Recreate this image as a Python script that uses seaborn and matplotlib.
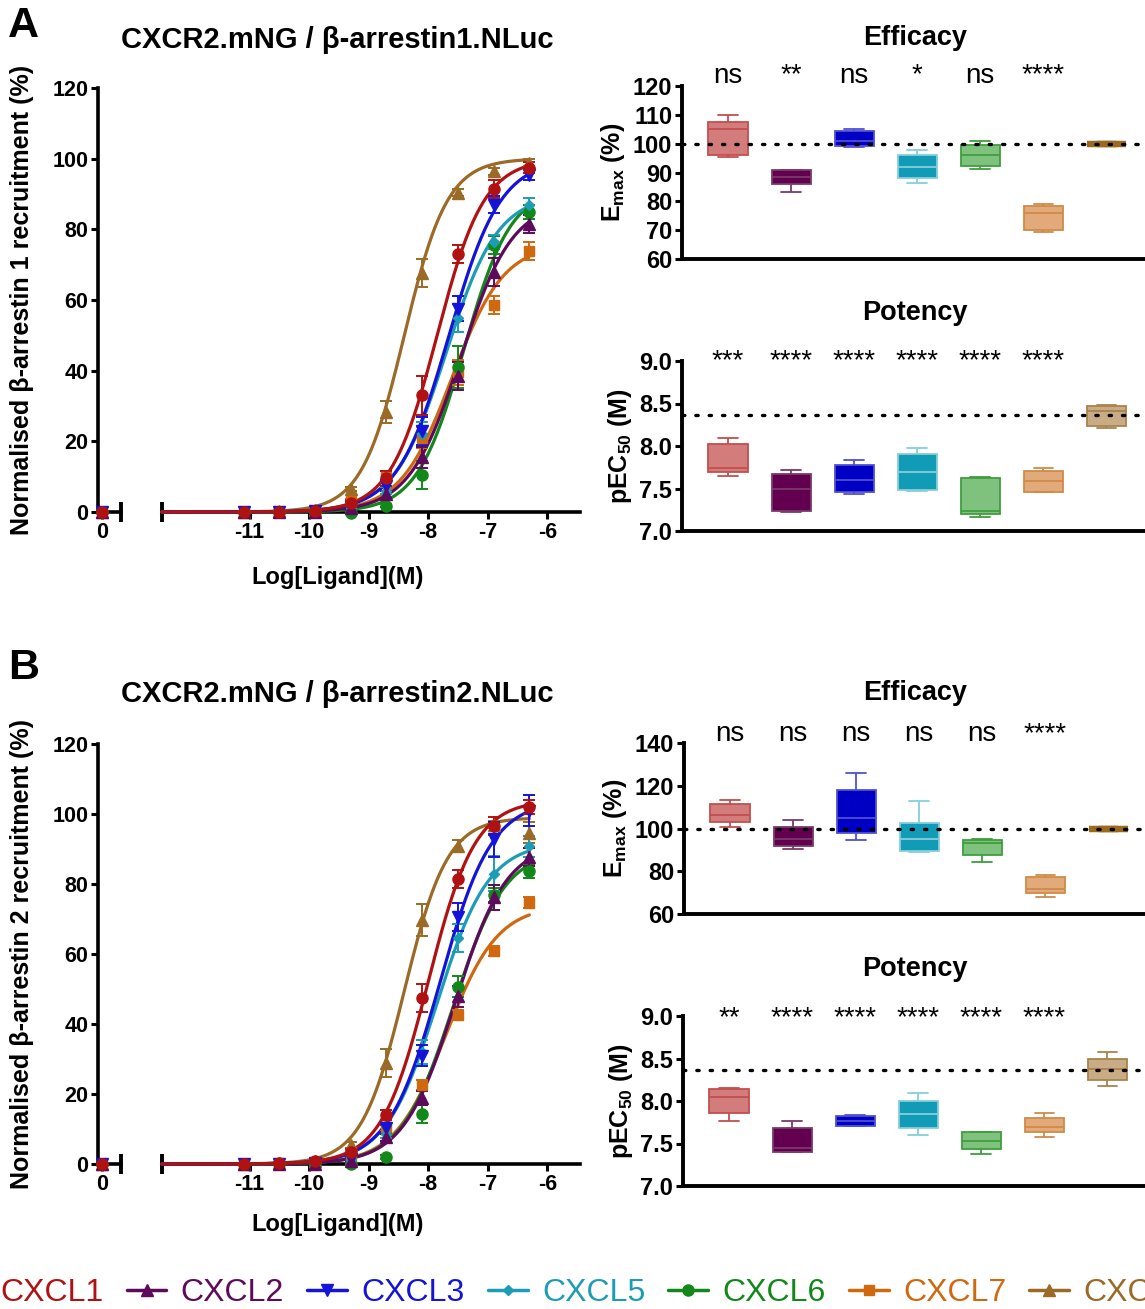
import numpy as np
import pandas as pd
import matplotlib
matplotlib.use("Agg")
import matplotlib.pyplot as plt
import matplotlib.transforms as mtrans
from matplotlib.lines import Line2D
import seaborn as sns

sns.set_style("ticks")
plt.rcParams["font.family"] = ["Liberation Sans", "DejaVu Sans"]
plt.rcParams["mathtext.fontset"] = "custom"
plt.rcParams["mathtext.rm"] = "Liberation Sans"
plt.rcParams["mathtext.bf"] = "Liberation Sans:bold"
for k in ["text.color", "axes.labelcolor", "xtick.color", "ytick.color", "axes.edgecolor"]:
    plt.rcParams[k] = "black"

ligands = ["CXCL1", "CXCL2", "CXCL3", "CXCL5", "CXCL6", "CXCL7", "CXCL8"]
line_colors = ["#B01212", "#5E0A5C", "#1414D8", "#1C9DB5", "#12881A", "#D0680F", "#9A6A26"]
markers = ["o", "^", "v", "D", "o", "s", "^"]
msizes = [8, 8.5, 8.5, 5, 8, 7, 8.5]
box_fill = ["#D27C7C", "#62004F", "#0000C4", "#129BB6", "#7EC27E", "#E2AA7A", "#C9AB85"]
box_edge = ["#C44E4E", "#7A3A6A", "#5050D0", "#86CFDA", "#3E9E3E", "#D08A48", "#A8844C"]

log_conc = [-11.1, -10.5, -9.9, -9.3, -8.7, -8.1, -7.5, -6.9, -6.3]

# beta-arrestin1 recruitment, mean and SEM (%), one row per ligand
arr1_mean = [
    [0.1, 0.1, 0.2, 2.5, 9.5, 33.0, 73.0, 91.5, 97.5],
    [0.0, 0.0, 0.1, 1.0, 5.0, 15.5, 38.5, 68.0, 81.5],
    [0.0, 0.0, 0.2, 1.5, 7.5, 23.0, 57.5, 87.0, 95.5],
    [0.0, 0.0, 0.1, 1.0, 6.0, 22.0, 55.0, 76.5, 87.0],
    [0.0, 0.0, 0.0, -0.3, 1.8, 10.5, 41.0, 75.5, 85.0],
    [0.0, 0.0, 0.1, 3.0, 10.0, 21.0, 39.5, 58.5, 73.8],
    [0.0, 0.2, 0.5, 6.5, 28.3, 67.7, 90.4, 96.4, 98.8],
]
arr1_sem = [
    [0.3, 0.3, 0.3, 0.8, 2.0, 5.5, 2.5, 2.5, 1.5],
    [0.3, 0.3, 0.3, 0.5, 1.0, 3.0, 4.0, 4.0, 2.5],
    [0.3, 0.3, 0.3, 0.5, 1.5, 4.0, 3.5, 2.5, 1.5],
    [0.3, 0.3, 0.3, 0.5, 1.0, 3.5, 4.0, 2.0, 2.0],
    [0.3, 0.3, 0.3, 0.3, 0.5, 4.0, 6.0, 2.5, 2.0],
    [0.3, 0.3, 0.3, 0.8, 1.5, 3.0, 3.5, 2.5, 2.5],
    [0.3, 0.3, 0.5, 0.5, 3.0, 4.0, 1.0, 1.0, 1.0],
]
arr1_top = [100, 88, 100, 90, 92, 76, 100]
arr1_logec50 = [-7.85, -7.45, -7.65, -7.70, -7.40, -7.60, -8.40]
arr1_hill = [1.1, 1.0, 1.0, 1.0, 1.1, 1.0, 1.2]

# beta-arrestin2 recruitment
arr2_mean = [
    [0.1, 0.2, 1.0, 3.5, 14.0, 47.4, 81.4, 96.6, 102.0],
    [0.0, 0.0, 0.1, 1.0, 7.6, 19.0, 48.0, 76.2, 87.7],
    [0.0, 0.0, 0.2, 1.5, 10.2, 30.9, 70.6, 92.8, 101.0],
    [0.0, 0.0, 0.1, 1.2, 8.5, 32.0, 64.6, 82.9, 90.8],
    [0.0, 0.0, 0.0, 0.0, 2.0, 14.3, 50.6, 77.0, 83.7],
    [0.0, 0.0, 0.1, 1.5, 10.5, 22.6, 42.6, 60.9, 74.7],
    [0.0, 0.2, 0.8, 5.4, 29.0, 69.7, 91.0, 97.0, 94.7],
]
arr2_sem = [
    [0.3, 0.3, 0.3, 0.8, 1.5, 4.0, 2.5, 2.5, 2.0],
    [0.3, 0.3, 0.3, 0.5, 1.0, 2.0, 3.0, 3.5, 2.5],
    [0.3, 0.3, 0.3, 0.5, 1.0, 3.0, 4.0, 5.0, 4.5],
    [0.3, 0.3, 0.3, 0.5, 1.0, 3.5, 4.0, 5.0, 3.0],
    [0.3, 0.3, 0.3, 0.3, 0.5, 2.5, 3.0, 2.0, 2.0],
    [0.3, 0.3, 0.3, 0.5, 1.0, 1.5, 1.5, 1.5, 1.5],
    [0.3, 0.3, 0.5, 0.8, 4.0, 4.5, 1.5, 1.0, 3.0],
]
arr2_top = [104, 92, 104, 92, 90, 74, 99]
arr2_logec50 = [-8.00, -7.55, -7.80, -7.85, -7.58, -7.70, -8.40]
arr2_hill = [1.1, 1.0, 1.0, 1.0, 1.0, 1.0, 1.2]

# box plot summaries: [min, q1, median, q3, max]
emax1 = [[95.5, 96.1, 105.0, 107.4, 109.9], [83.4, 86.1, 88.5, 91.0, 91.0],
         [99.0, 99.3, 101.0, 104.5, 105.0], [86.3, 88.0, 92.0, 96.1, 97.8],
         [91.3, 92.4, 96.1, 99.5, 101.0], [69.2, 70.0, 76.1, 78.4, 79.0],
         [100, 100, 100, 100, 100]]
pec1 = [[7.65, 7.69, 7.74, 8.02, 8.10], [7.22, 7.23, 7.50, 7.67, 7.72],
        [7.44, 7.46, 7.60, 7.78, 7.83], [7.47, 7.48, 7.70, 7.91, 7.98],
        [7.17, 7.20, 7.23, 7.62, 7.63], [7.46, 7.46, 7.59, 7.71, 7.74],
        [8.21, 8.23, 8.41, 8.47, 8.48]]
emax2 = [[100.6, 103.0, 106.1, 111.6, 113.4], [90.3, 91.6, 95.0, 100.5, 104.0],
         [94.4, 98.1, 105.0, 118.0, 126.0], [88.8, 89.7, 95.0, 102.5, 113.0],
         [84.4, 87.7, 93.0, 94.7, 95.2], [68.1, 69.7, 71.6, 77.2, 78.3],
         [100, 100, 100, 100, 100]]
pec2 = [[7.77, 7.86, 8.05, 8.14, 8.15], [7.40, 7.40, 7.45, 7.68, 7.76],
        [7.71, 7.71, 7.76, 7.82, 7.83], [7.60, 7.68, 7.85, 8.00, 8.09],
        [7.38, 7.44, 7.53, 7.63, 7.63], [7.58, 7.63, 7.69, 7.80, 7.86],
        [8.18, 8.25, 8.38, 8.49, 8.58]]
emax1_sig = ["ns", "**", "ns", "*", "ns", "****"]
pec1_sig = ["***", "****", "****", "****", "****", "****"]
emax2_sig = ["ns", "ns", "ns", "ns", "ns", "****"]
pec2_sig = ["**", "****", "****", "****", "****", "****"]
pec1_ref = 8.36
pec2_ref = 8.37

W, H = 1145, 1309
fig = plt.figure(figsize=(W / 100, H / 100), dpi=100)


def rect(x0, y0, x1, y1):
    return [x0 / W, 1 - y1 / H, (x1 - x0) / W, (y1 - y0) / H]


XL = -12.47


def curve_panel(y0, y1, mean, sem, top, logec, hill):
    ax0 = fig.add_axes(rect(98, y0, 121, y1))
    ax1 = fig.add_axes(rect(162, y0, 580, y1))
    for ax in (ax0, ax1):
        ax.set_ylim(0, 120)
        ax.patch.set_alpha(0)
        for s in ax.spines.values():
            s.set_linewidth(2.6)
        ax.spines["top"].set_visible(False)
        ax.spines["right"].set_visible(False)
        ax.tick_params(width=2.2, length=5, labelsize=15, pad=2)
    ax1.spines["left"].set_visible(False)
    ax1.set_yticks([])
    ax0.set_yticks(range(0, 121, 20))
    ax0.set_yticklabels([str(v) for v in range(0, 121, 20)], fontweight="bold", fontsize=15.5)
    ax0.set_xlim(-0.2, 1)
    ax0.set_xticks([0])
    ax0.set_xticklabels(["0"], fontweight="bold", fontsize=15.5)
    ax1.set_xlim(XL, -5.45)
    ax1.set_xticks(range(-11, -5))
    ax1.set_xticklabels([str(v) for v in range(-11, -5)], fontweight="bold", fontsize=15.5)
    # axis-break end caps
    ax0.set_xticks([1], minor=True)
    ax1.set_xticks([XL], minor=True)
    for ax in (ax0, ax1):
        ax.tick_params(axis="x", which="minor", direction="inout", length=14, width=2.8)
    xs = np.linspace(XL, -6.3, 300)
    for i in reversed(range(len(ligands))):
        c = line_colors[i]
        ys = top[i] / (1 + 10 ** ((logec[i] - xs) * hill[i]))
        sns.lineplot(x=xs, y=ys, ax=ax1, color=c, lw=2.3, estimator=None, clip_on=False, zorder=3)
        eb = ax1.errorbar(log_conc, mean[i], yerr=sem[i], fmt=markers[i], color=c, ms=msizes[i],
                          capsize=4, elinewidth=1.4, capthick=1.4, zorder=4)
        for a in eb.get_children():
            a.set_clip_on(False)
        ax0.plot([0], [0], marker=markers[i], color=c, ms=msizes[i], clip_on=False, zorder=4)
    return ax0, ax1


def box_panel(px, data5, ylim, yticks, ylabels, ylabel, ref, sig, sig_y, flat_last):
    ax = fig.add_axes(rect(*px))
    ax.patch.set_alpha(0)
    df = pd.DataFrame({"ligand": np.repeat(ligands, 5), "value": np.concatenate(data5)})
    sns.boxplot(data=df, x="ligand", y="value", hue="ligand", palette=box_fill, width=0.62,
                whis=(0, 100), linewidth=1.3, saturation=1, legend=False, ax=ax)
    for cont, edge in zip(ax.containers, box_edge):
        for b in cont.boxes:
            b.set_edgecolor(edge)
        for l in list(cont.whiskers) + list(cont.caps) + list(cont.medians):
            l.set_color(edge)
    if flat_last:
        cont = ax.containers[-1]
        for b in cont.boxes:
            b.set_edgecolor("#9C6A1E")
            b.set_facecolor("#9C6A1E")
            b.set_linewidth(4.5)
        for l in list(cont.whiskers) + list(cont.caps) + list(cont.medians):
            l.set_color("#9C6A1E")
            l.set_linewidth(4.5)
    ax.axhline(ref, ls=(0, (0.7, 3.3)), lw=2.4, color="black", zorder=6, dash_capstyle="round")
    ax.set_xlim(-0.73, 7.2)
    ax.set_ylim(*ylim)
    ax.set_yticks(yticks)
    ax.set_yticklabels(ylabels, fontweight="bold", fontsize=17)
    ax.set_xticks([])
    ax.set_xlabel("")
    ax.set_ylabel(ylabel, fontsize=18, fontweight="bold", labelpad=4)
    for s in ax.spines.values():
        s.set_linewidth(2.8)
    ax.spines["top"].set_visible(False)
    ax.spines["right"].set_visible(False)
    ax.tick_params(axis="y", width=2.2, length=5, pad=2)
    tr = mtrans.blended_transform_factory(ax.transData, ax.transAxes)
    for i, m in enumerate(sig):
        ax.text(i, sig_y, m, transform=tr, ha="center", va="center", fontsize=20)
    return ax


for (y0, y1, mean, sem, top, lec, hl, ylab, ttl, letter, ty, ly, xly) in [
    (88, 512, arr1_mean, arr1_sem, arr1_top, arr1_logec50, arr1_hill,
     "Normalised β-arrestin 1 recruitment (%)", "CXCR2.mNG / β-arrestin1.NLuc", "A", 40, 26, 577),
    (744, 1164, arr2_mean, arr2_sem, arr2_top, arr2_logec50, arr2_hill,
     "Normalised β-arrestin 2 recruitment (%)", "CXCR2.mNG / β-arrestin2.NLuc", "B", 694, 668, 1224),
]:
    curve_panel(y0, y1, mean, sem, top, lec, hl)
    fig.text(22 / W, 1 - (y0 + y1) / 2 / H, ylab, rotation=90, ha="center", va="center",
             fontsize=18, fontweight="bold")
    fig.text(337 / W, 1 - ty / H, ttl, ha="center", va="center", fontsize=21, fontweight="bold")
    fig.text(8 / W, 1 - ly / H, letter, ha="left", va="center", fontsize=31, fontweight="bold")
    fig.text(338 / W, 1 - xly / H, "Log[Ligand](M)", ha="center", va="center",
             fontsize=17, fontweight="bold")

emax_lab = r"E$_{\mathbf{max}}$ (%)"
pec_lab = r"pEC$_{\mathbf{50}}$ (M)"
box_panel((682, 86, 1182, 259), emax1, (60, 120), range(60, 121, 10),
          [str(v) for v in range(60, 121, 10)], emax_lab, 100, emax1_sig, 1.06, True)
box_panel((682, 361, 1182, 531), pec1, (7.0, 9.0), [7.0, 7.5, 8.0, 8.5, 9.0],
          ["7.0", "7.5", "8.0", "8.5", "9.0"], pec_lab, pec1_ref, pec1_sig, 1.0, False)
box_panel((684, 743, 1184, 914), emax2, (60, 140), range(60, 141, 20),
          [str(v) for v in range(60, 141, 20)], emax_lab, 100, emax2_sig, 1.05, True)
box_panel((683, 1016, 1183, 1186), pec2, (7.0, 9.0), [7.0, 7.5, 8.0, 8.5, 9.0],
          ["7.0", "7.5", "8.0", "8.5", "9.0"], pec_lab, pec2_ref, pec2_sig, 0.985, False)

for txt, y in [("Efficacy", 38), ("Potency", 313), ("Efficacy", 693), ("Potency", 969)]:
    fig.text(915 / W, 1 - y / H, txt, ha="center", va="center", fontsize=19.5, fontweight="bold")

handles = [Line2D([], [], color=c, marker=m, ms=s, lw=2.5) for c, m, s in zip(line_colors, markers, msizes)]
fig.legend(handles, ligands, loc="center left", bbox_to_anchor=(-54 / W, 1 - 1293 / H), ncol=7,
           frameon=False, fontsize=23, handlelength=1.25, handletextpad=0.45, columnspacing=0.72,
           labelcolor="linecolor", borderaxespad=0, borderpad=0)

fig.savefig("out.png", dpi=100)
